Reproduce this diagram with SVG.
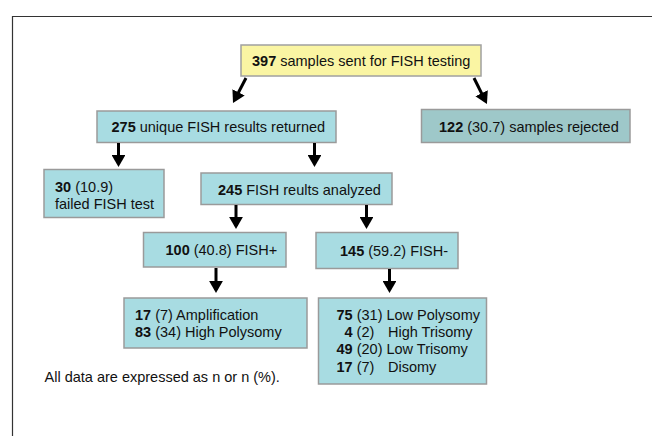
<svg xmlns="http://www.w3.org/2000/svg" width="652" height="436" viewBox="0 0 652 436">
<defs>
<style>
.box{fill:#a8dce2;stroke:#9a9a9a;stroke-width:1.5}
.yel{fill:#faf5a3;stroke:#a0a0a0;stroke-width:1.5}
.rej{fill:#9ec8c9;stroke:#9a9a9a;stroke-width:1.5}
text{font-family:"Liberation Sans",Arial,sans-serif;font-size:14.5px;fill:#111}
.b{font-weight:bold}
.c line{stroke:#000;stroke-width:3}
</style>
<marker id="ah" markerWidth="4" markerHeight="4.6" refX="3" refY="2.3" orient="auto" markerUnits="strokeWidth">
<path d="M0,0 L4,2.3 L0,4.6 z" fill="#000"/>
</marker>
</defs>
<rect width="652" height="436" fill="#fff"/>
<path d="M12.5,436 V16.5 H652" fill="none" stroke="#333" stroke-width="1.2"/>

<g id="n397"><rect class="yel" x="241" y="45" width="240" height="31"/><text x="252" y="66"><tspan class="b">397</tspan> samples sent for FISH testing</text></g>
<g id="n275"><rect class="box" x="97" y="111" width="239" height="31.5"/><text x="111.5" y="132"><tspan class="b">275</tspan> unique FISH results returned</text></g>
<g id="n122"><rect class="rej" x="421.5" y="109.5" width="208.5" height="33"/><text x="439" y="131.5"><tspan class="b">122</tspan> (30.7) samples rejected</text></g>
<g id="n30"><rect class="box" x="44" y="169.5" width="120" height="48"/><text x="55" y="191.5"><tspan class="b">30</tspan> (10.9)</text><text x="55" y="209">failed FISH test</text></g>
<g id="n245"><rect class="box" x="201" y="173" width="191" height="31.5"/><text x="218" y="195"><tspan class="b">245</tspan> FISH reults analyzed</text></g>
<g id="n100"><rect class="box" x="143.5" y="232.5" width="142.5" height="34.5"/><text x="165.5" y="255"><tspan class="b">100</tspan> (40.8) FISH+</text></g>
<g id="n145"><rect class="box" x="316" y="232.5" width="142" height="36"/><text x="340" y="255.5"><tspan class="b">145</tspan> (59.2) FISH-</text></g>
<g id="nPos"><rect class="box" x="124" y="298" width="183" height="50"/><text x="135" y="319.5"><tspan class="b">17</tspan> (7) Amplification</text><text x="135" y="337"><tspan class="b">83</tspan> (34) High Polysomy</text></g>
<g id="nNeg"><rect class="box" x="318.5" y="298" width="168" height="86"/>
<text x="336.5" y="319.5"><tspan class="b">75</tspan> (31) Low Polysomy</text>
<text x="344.5" y="337"><tspan class="b">4</tspan> (2)</text><text x="388" y="337">High Trisomy</text>
<text x="336.5" y="354"><tspan class="b">49</tspan> (20) Low Trisomy</text>
<text x="336.5" y="371.5"><tspan class="b">17</tspan> (7)</text><text x="388" y="371.5">Disomy</text></g>
<text x="44.5" y="382">All data are expressed as n or n (%).</text>

<g id="connectors" class="c">
<line x1="246" y1="78" x2="234.4" y2="100.3" marker-end="url(#ah)"/>
<line x1="474" y1="78" x2="485.6" y2="101.3" marker-end="url(#ah)"/>
<line x1="118.5" y1="143" x2="118.5" y2="164" marker-end="url(#ah)"/>
<line x1="314.5" y1="143" x2="314.5" y2="164" marker-end="url(#ah)"/>
<line x1="236" y1="205" x2="236" y2="226" marker-end="url(#ah)"/>
<line x1="366.5" y1="205" x2="366.5" y2="226" marker-end="url(#ah)"/>
<line x1="216" y1="268" x2="216" y2="290" marker-end="url(#ah)"/>
<line x1="389.5" y1="269" x2="389.5" y2="290" marker-end="url(#ah)"/>
</g>
</svg>
